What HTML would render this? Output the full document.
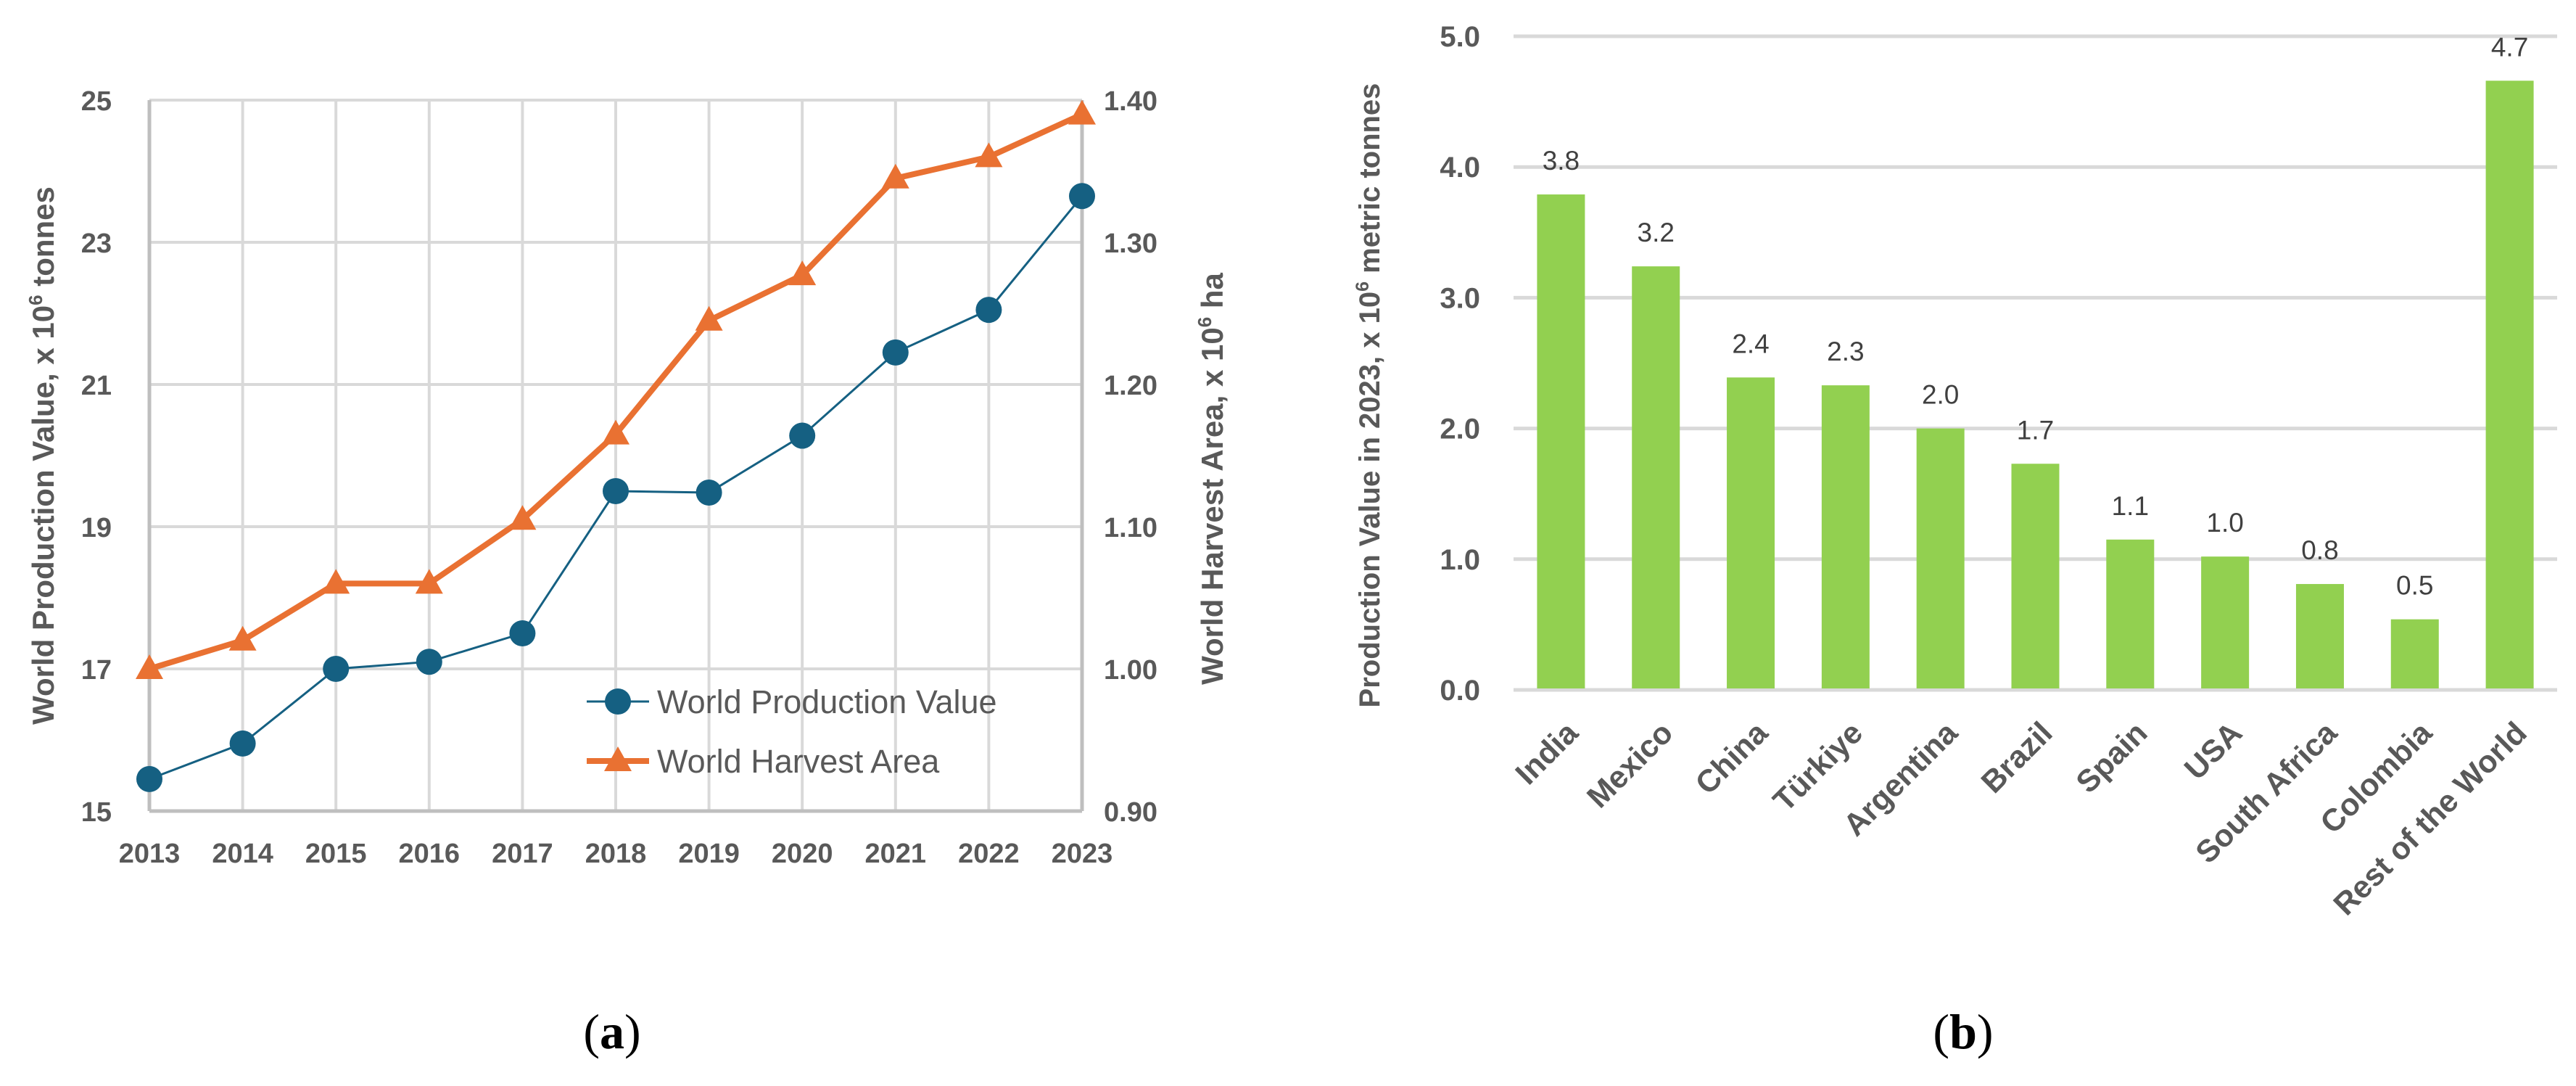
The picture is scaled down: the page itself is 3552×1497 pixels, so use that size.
<!DOCTYPE html>
<html><head><meta charset="utf-8"><style>
html,body{margin:0;padding:0;background:#fff;}
svg{display:block;font-family:"Liberation Sans",sans-serif;}
</style></head><body>
<svg id="fig" width="3552" height="1497" viewBox="0 0 3552 1497"></svg>
<script>
const years = [2013,2014,2015,2016,2017,2018,2019,2020,2021,2022,2023];
const productionValues = [15.45,15.95,17.0,17.1,17.5,19.5,19.48,20.28,21.45,22.05,23.65];
const harvestArea = [1.00,1.02,1.06,1.06,1.105,1.165,1.245,1.277,1.345,1.36,1.39];
const leftTicks = [15,17,19,21,23,25];
const rightTicks = ["0.90","1.00","1.10","1.20","1.30","1.40"];
const countries = ["India","Mexico","China","Türkiye","Argentina","Brazil","Spain","USA","South Africa","Colombia","Rest of the World"];
const countryValues = [3.79,3.24,2.39,2.33,2.0,1.73,1.15,1.02,0.81,0.54,4.66];
const barTicks = ["0.0","1.0","2.0","3.0","4.0","5.0"];

const NS="http://www.w3.org/2000/svg";
const svg=document.getElementById('fig');
function mk(tag,attrs,parent,text){const e=document.createElementNS(NS,tag);for(const k in attrs)e.setAttribute(k,attrs[k]);if(text!==undefined)e.textContent=text;(parent||svg).appendChild(e);return e;}

// ---- Chart A ----
const A={x0:206,x1:1492,yTop:138,yBot:1118};
const ax=i=>A.x0+(A.x1-A.x0)*i/(years.length-1);
const ayL=v=>A.yBot-(v-15)/(25-15)*(A.yBot-A.yTop);
const ayR=v=>A.yBot-(v-0.9)/(1.4-0.9)*(A.yBot-A.yTop);
const gA=mk('g',{});

years.forEach((y,i)=>{const l=mk('line',{x1:ax(i),x2:ax(i),y1:A.yTop,y2:A.yBot,stroke:'#d9d9d9','stroke-width':4},gA);

const t=mk('text',{x:ax(i),y:1189,'text-anchor':'middle','font-size':38,'font-weight':'bold',fill:'#595959'},gA,String(y));
});
leftTicks.forEach((v,i)=>{const l=mk('line',{x1:A.x0,x2:A.x1,y1:ayL(v),y2:ayL(v),stroke:'#d9d9d9','stroke-width':4},gA);

const t=mk('text',{x:154,y:ayL(v)+14,'text-anchor':'end','font-size':38,'font-weight':'bold',fill:'#595959'},gA,String(v));

const r=mk('text',{x:1522,y:ayR(parseFloat(rightTicks[i]))+14,'text-anchor':'start','font-size':38,'font-weight':'bold',fill:'#595959'},gA,rightTicks[i]);
});
let la=mk('line',{x1:A.x0,x2:A.x0,y1:A.yTop,y2:A.yBot,stroke:'#bfbfbf','stroke-width':5},gA);

let ra=mk('line',{x1:A.x1,x2:A.x1,y1:A.yTop,y2:A.yBot,stroke:'#bfbfbf','stroke-width':5},gA);

let xa=mk('line',{x1:A.x0,x2:A.x1,y1:A.yBot,y2:A.yBot,stroke:'#bfbfbf','stroke-width':5},gA);

let hp=mk('polyline',{points:harvestArea.map((v,i)=>ax(i)+','+ayR(v)).join(' '),fill:'none',stroke:'#E97132','stroke-width':8,'stroke-linejoin':'round'},gA);

harvestArea.forEach((v,i)=>{const x=ax(i),y=ayR(v);const m=mk('polygon',{points:`${x},${y-20} ${x-19},${y+14} ${x+19},${y+14}`,fill:'#E97132'},gA);
});
let pp=mk('polyline',{points:productionValues.map((v,i)=>ax(i)+','+ayL(v)).join(' '),fill:'none',stroke:'#156082','stroke-width':3},gA);

productionValues.forEach((v,i)=>{const m=mk('circle',{cx:ax(i),cy:ayL(v),r:18,fill:'#156082'},gA);
});
let t1=mk('text',{transform:'translate(74,628) rotate(-90)','text-anchor':'middle','font-size':42,'font-weight':'bold',fill:'#595959'},gA);

t1.innerHTML='World Production Value, x 10<tspan dy="-16" font-size="26">6</tspan><tspan dy="16"> tonnes</tspan>';
let t2=mk('text',{transform:'translate(1686,660) rotate(-90)','text-anchor':'middle','font-size':42,'font-weight':'bold',fill:'#595959'},gA);

t2.innerHTML='World Harvest Area, x 10<tspan dy="-16" font-size="26">6</tspan><tspan dy="16"> ha</tspan>';
const lg=mk('g',{},gA);
let e1=mk('g',{},lg);
mk('line',{x1:809,x2:895,y1:967,y2:967,stroke:'#156082','stroke-width':3},e1);
mk('circle',{cx:852,cy:967,r:18,fill:'#156082'},e1);
mk('text',{x:906,y:983,'font-size':45,fill:'#595959'},e1,'World Production Value');
let e2=mk('g',{},lg);
mk('line',{x1:809,x2:895,y1:1049,y2:1049,stroke:'#E97132','stroke-width':8},e2);
mk('polygon',{points:'852,1029 833,1063 871,1063',fill:'#E97132'},e2);
mk('text',{x:906,y:1065,'font-size':45,fill:'#595959'},e2,'World Harvest Area');
let ca=mk('text',{x:844,y:1445,'text-anchor':'middle','font-size':68,'font-family':'Liberation Serif, serif',fill:'#000'},svg);

ca.innerHTML='(<tspan font-weight="bold">a</tspan>)';

// ---- Chart B ----
const B={x0:2087,x1:3526,yTop:50,yBot:951};
const bw=(B.x1-B.x0)/countries.length;
const bx=i=>B.x0+bw*(i+0.5);
const by=v=>B.yBot-v/5*(B.yBot-B.yTop);
const gB=mk('g',{});
barTicks.forEach(s=>{const v=parseFloat(s);const l=mk('line',{x1:B.x0,x2:B.x1,y1:by(v),y2:by(v),stroke:'#d9d9d9','stroke-width':5},gB);

const t=mk('text',{x:2041,y:by(v)+14,'text-anchor':'end','font-size':40,'font-weight':'bold',fill:'#595959'},gB,s);
});
countries.forEach((c,i)=>{const v=countryValues[i];
const r=mk('rect',{x:bx(i)-33,y:by(v),width:66,height:B.yBot-by(v)-2,fill:'#92D050'},gB);

const d=mk('text',{x:bx(i),y:by(v)-34,'text-anchor':'middle','font-size':37,fill:'#404040'},gB,v.toFixed(1));

const t=mk('text',{transform:`translate(${bx(i)+26},${B.yBot+62}) rotate(-45)`,'text-anchor':'end','font-size':43,'font-weight':'bold',fill:'#595959'},gB,c);
});
let t3=mk('text',{transform:'translate(1902,545) rotate(-90)','text-anchor':'middle','font-size':40,'font-weight':'bold',fill:'#595959'},gB);

t3.innerHTML='Production Value in 2023, x 10<tspan dy="-15" font-size="25">6</tspan><tspan dy="15"> metric tonnes</tspan>';
let cb=mk('text',{x:2707,y:1445,'text-anchor':'middle','font-size':68,'font-family':'Liberation Serif, serif',fill:'#000'},svg);

cb.innerHTML='(<tspan font-weight="bold">b</tspan>)';
</script>
</body></html>
